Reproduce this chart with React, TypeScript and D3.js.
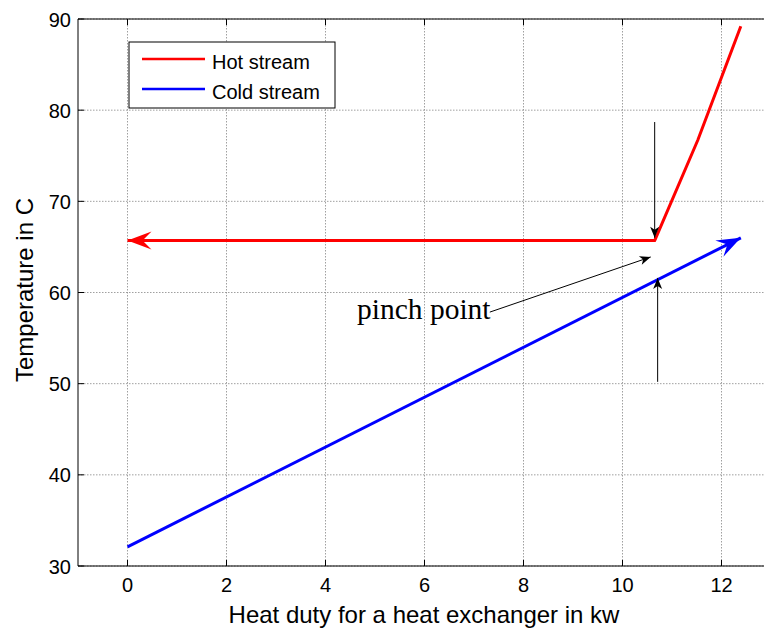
import React from "react";
import * as d3 from "d3";

const xTicks = [0, 2, 4, 6, 8, 10, 12];
const yTicks = [30, 40, 50, 60, 70, 80, 90];
const hotX = [12.39, 11.52, 10.65, 0];
const hotY = [89.2, 76.7, 65.7, 65.7];
const coldX = [0, 12.39];
const coldY = [32.1, 66.0];
const legendLabels = ["Hot stream", "Cold stream"];
const legendColors = ["#ff0000", "#0000ff"];
// annotation arrows: [x1,y1,x2,y2] in data units
const annoArrows = [
  [10.65, 78.7, 10.65, 66.0],
  [10.71, 50.2, 10.71, 61.6],
  [7.32, 57.85, 10.57, 63.9],
];
const annoText = "pinch point";

export default function App() {
  const W = 764, H = 630;
  const m = { left: 78, top: 19, bottom: 566 };
  const x = d3.scaleLinear().domain([-1, 13]).range([78, 771]);
  const y = d3.scaleLinear().domain([30, 90]).range([566, 19]);
  const line = d3.line<[number, number]>().x((d) => x(d[0])).y((d) => y(d[1]));
  const hot = hotX.map((v, i) => [v, hotY[i]] as [number, number]);
  const cold = coldX.map((v, i) => [v, coldY[i]] as [number, number]);

  const head = (x1: number, y1: number, x2: number, y2: number, len: number, half: number, back: number) => {
    const a = Math.atan2(y2 - y1, x2 - x1);
    const ux = Math.cos(a), uy = Math.sin(a);
    const px = -uy, py = ux;
    const bx = x2 - ux * len, by = y2 - uy * len;
    const ix = x2 - ux * (len - back), iy = y2 - uy * (len - back);
    return `M${x2},${y2} L${bx + px * half},${by + py * half} L${ix},${iy} L${bx - px * half},${by - py * half} Z`;
  };

  const hotEnd = hot[hot.length - 1], hotPrev = hot[hot.length - 2];
  const coldEnd = cold[1], coldPrev = cold[0];

  return (
    <svg width={W} height={H} style={{ position: "absolute", left: 0, top: 0, background: "#fff" }} fontFamily="Liberation Sans, Arial, sans-serif">
      <rect x={0} y={0} width={W} height={H} fill="#fff" />
      {xTicks.map((t) => (
        <line key={"gx" + t} x1={x(t)} x2={x(t)} y1={m.top} y2={m.bottom} stroke="#888" strokeWidth={0.8} strokeDasharray="1.5,1.5" />
      ))}
      {yTicks.map((t) => (
        <line key={"gy" + t} x1={m.left} x2={W} y1={y(t)} y2={y(t)} stroke="#888" strokeWidth={0.8} strokeDasharray="1.5,1.5" />
      ))}
      <line x1={m.left} x2={W} y1={m.bottom} y2={m.bottom} stroke="#000" strokeWidth={1} />
      <line x1={m.left} x2={W} y1={m.top} y2={m.top} stroke="#000" strokeWidth={1} />
      <line x1={m.left} x2={m.left} y1={m.top} y2={m.bottom} stroke="#000" strokeWidth={1} />
      {xTicks.map((t) => (
        <g key={"tx" + t}>
          <line x1={x(t)} x2={x(t)} y1={m.bottom} y2={m.bottom - 6} stroke="#000" />
          <line x1={x(t)} x2={x(t)} y1={m.top} y2={m.top + 6} stroke="#000" />
          <text x={x(t)} y={592} fontSize={20} textAnchor="middle" fill="#000">{t}</text>
        </g>
      ))}
      {yTicks.map((t) => (
        <g key={"ty" + t}>
          <line x1={m.left} x2={m.left + 6} y1={y(t)} y2={y(t)} stroke="#000" />
          <text x={71} y={y(t) + 7.5} fontSize={20} textAnchor="end" fill="#000">{t}</text>
        </g>
      ))}
      <text x={424} y={623} fontSize={24} textAnchor="middle" fill="#000">Heat duty for a heat exchanger in kw</text>
      <text transform={`translate(33,290) rotate(-90)`} fontSize={24} textAnchor="middle" fill="#000">Temperature in C</text>

      <path d={line(hot) || ""} fill="none" stroke="#ff0000" strokeWidth={3} strokeLinejoin="round" />
      <path d={head(x(hotPrev[0]), y(hotPrev[1]), x(hotEnd[0]), y(hotEnd[1]), 24, 9, 9)} fill="#ff0000" />
      <path d={line(cold) || ""} fill="none" stroke="#0000ff" strokeWidth={3} />
      <path d={head(x(coldPrev[0]), y(coldPrev[1]), x(coldEnd[0]), y(coldEnd[1]), 24, 9, 9)} fill="#0000ff" />

      {annoArrows.map((a, i) => {
        const x1 = x(a[0]), y1 = y(a[1]), x2 = x(a[2]), y2 = y(a[3]);
        return (
          <g key={"a" + i}>
            <line x1={x1} y1={y1} x2={x2} y2={y2} stroke="#000" strokeWidth={1} />
            <path d={head(x1, y1, x2, y2, 11, 4.5, 3)} fill="#000" />
          </g>
        );
      })}
      <text x={357} y={319} fontSize={29.5} fontFamily="Liberation Serif, Times New Roman, serif" fill="#000">{annoText}</text>

      <rect x={129} y={42} width={206} height={66} fill="#fff" stroke="#000" strokeWidth={1} />
      {legendLabels.map((l, i) => (
        <g key={l}>
          <line x1={142} x2={205} y1={59 + i * 30} y2={59 + i * 30} stroke={legendColors[i]} strokeWidth={2.5} />
          <text x={212} y={69 + i * 30} fontSize={20} fill="#000">{l}</text>
        </g>
      ))}
    </svg>
  );
}
